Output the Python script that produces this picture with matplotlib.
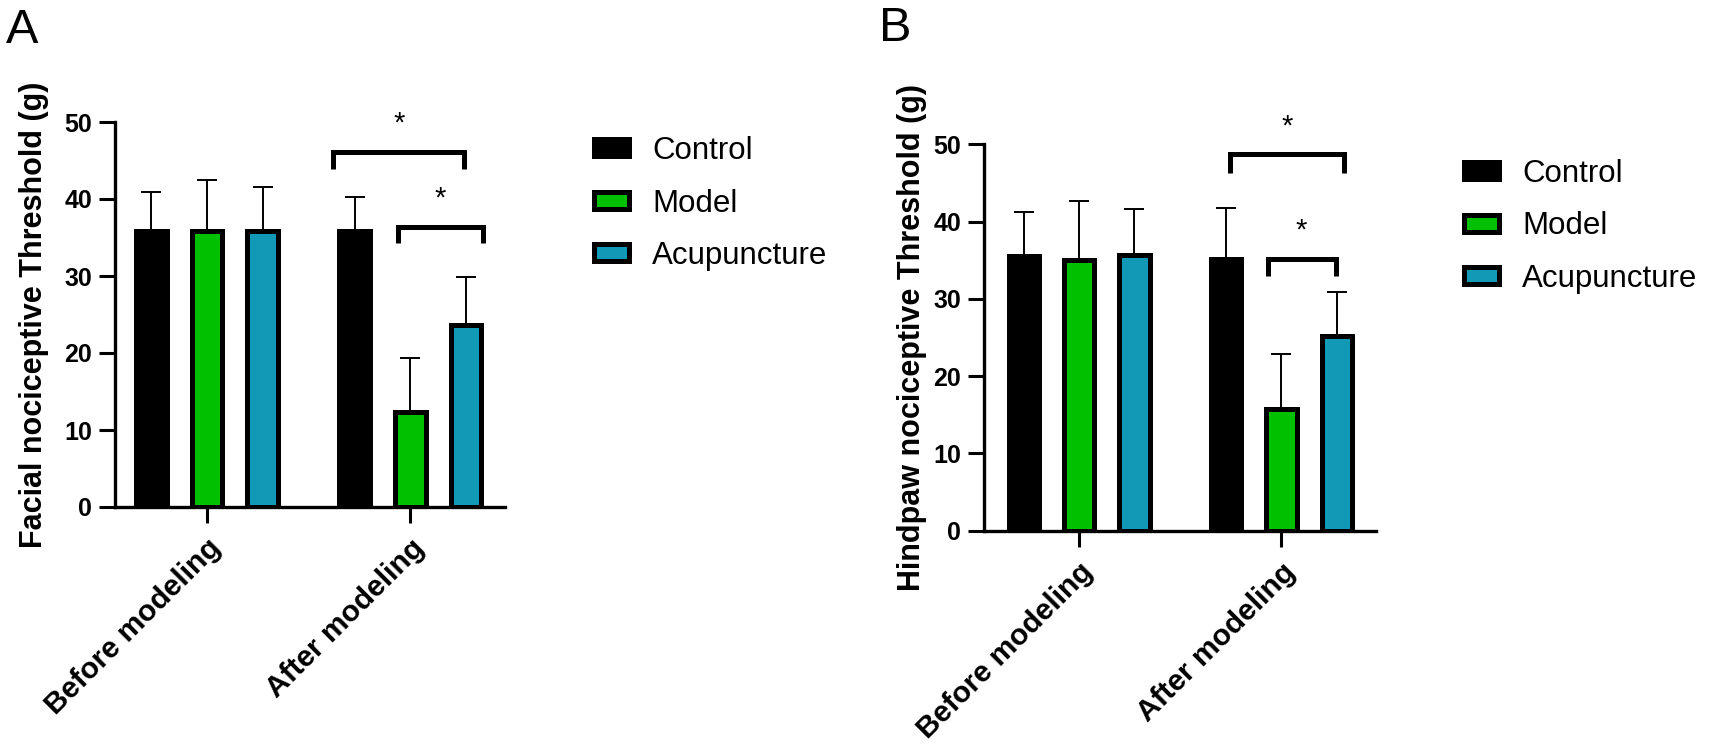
import numpy as np
import matplotlib
matplotlib.use('Agg')
import matplotlib.pyplot as plt

plt.rcParams['font.family'] = ['Liberation Sans', 'DejaVu Sans']

# ─── DATA ────────────────────────────────────────
groups = ['Control', 'Model', 'Acupuncture']
phases = ['Before modeling', 'After modeling']
cores = ['#000000', '#00C000', '#1199B5']

# mean / upper SD per group, order: before, after
facial_mean = {'Control': [35.8, 35.8], 'Model': [35.8, 12.4], 'Acupuncture': [35.8, 23.7]}
facial_sd = {'Control': [5.1, 4.4], 'Model': [6.7, 6.9], 'Acupuncture': [5.7, 6.2]}

hind_mean = {'Control': [35.5, 35.2], 'Model': [35.0, 15.8], 'Acupuncture': [35.7, 25.2]}
hind_sd = {'Control': [5.7, 6.6], 'Model': [7.6, 7.1], 'Acupuncture': [5.9, 5.7]}

# brackets: (x1, x2, y, leg drop, star y)
facial_brackets = [(3.27, 5.62, 46.1, 2.2, 49.8), (4.43, 5.96, 36.4, 2.1, 40.1)]
hind_brackets = [(3.73, 5.80, 48.7, 2.4, 52.3), (4.41, 5.64, 35.2, 2.3, 38.9)]

# ─── FIGURE ──────────────────────────────────────
W, H = 1713, 745
fig = plt.figure(figsize=(W / 100, H / 100), dpi=100)


def px_box(x0, x1, ytop, ybot):
    return [x0 / W, 1 - ybot / H, (x1 - x0) / W, (ybot - ytop) / H]


def painel(ax, medias, sds, brackets, ylabel, group_gap, xlim, label_x, leg_xy):
    pos_base = np.array([0.0, 1.0, 2.0])
    handles = []
    for i, g in enumerate(groups):
        xs = np.array([0.0, group_gap]) + pos_base[i]
        b = ax.bar(xs, medias[g], width=0.55, color=cores[i], edgecolor='black',
                   linewidth=3.6, label=g, zorder=2)
        ax.errorbar(xs, medias[g], yerr=[np.zeros(2), sds[g]], fmt='none',
                    ecolor='black', elinewidth=1.4, capsize=7.5, capthick=1.4, zorder=1)
        handles.append(b)

    for x1, x2, y, drop, ys in brackets:
        ax.plot([x1, x1, x2, x2], [y - drop, y, y, y - drop], color='black', lw=3.6,
                solid_joinstyle='miter', solid_capstyle='butt', clip_on=False, zorder=3)
        ax.text((x1 + x2) / 2, ys, '*', ha='center', va='center', fontsize=21)

    ax.set_xlim(*xlim)
    ax.set_ylim(0, 50)
    ax.set_yticks([0, 10, 20, 30, 40, 50])
    ax.set_xticks([1.0, 1.0 + group_gap])
    ax.set_xticklabels(phases, rotation=45, ha='right', rotation_mode='anchor',
                       fontsize=21.5, fontweight='bold')
    for t in ax.get_yticklabels():
        t.set_fontweight('bold')
        t.set_fontsize(18)
    ax.tick_params(axis='both', length=11.5, width=2.2)
    ax.tick_params(axis='y', pad=5)
    ax.tick_params(axis='x', pad=8)
    ax.spines[['top', 'right']].set_visible(False)
    for s in ['left', 'bottom']:
        ax.spines[s].set_linewidth(2.4)
    ax.set_ylabel(ylabel, fontsize=22, fontweight='bold')
    ax.yaxis.set_label_coords(label_x, 0.5)

    fig.legend(handles=handles, loc='upper left', bbox_to_anchor=leg_xy,
               frameon=False, fontsize=22.5, handlelength=1.12, handleheight=0.47,
               handletextpad=0.75, labelspacing=0.72, borderpad=0, borderaxespad=0)


axA = fig.add_axes(px_box(115, 505, 122, 507))
painel(axA, facial_mean, facial_sd, facial_brackets,
       'Facial nociceptive Threshold (g)', 3.65, (-0.65, 6.35), -0.17,
       (594 / W, 1 - 136 / H))

axB = fig.add_axes(px_box(984, 1376, 144.3, 530.7))
painel(axB, hind_mean, hind_sd, hind_brackets,
       'Hindpaw nociceptive Threshold (g)', 3.66, (-0.72, 6.37), -0.145,
       (1464 / W, 1 - 159 / H))

fig.text(6 / W, 1 - 8 / H, 'A', fontsize=35, va='top', ha='left')
fig.text(879 / W, 1 - 6 / H, 'B', fontsize=35, va='top', ha='left')

plt.savefig('out.png', dpi=100)
